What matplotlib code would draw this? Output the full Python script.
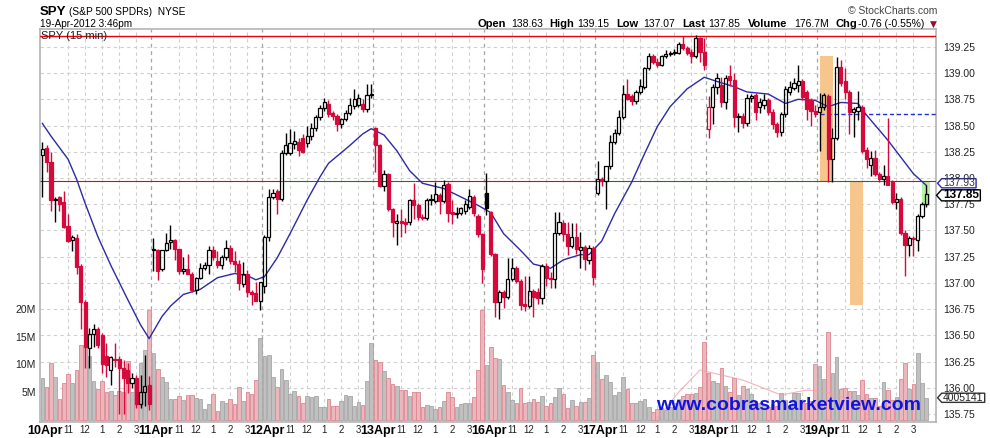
import matplotlib
matplotlib.use("Agg")
import matplotlib.pyplot as plt
import numpy as np
from matplotlib.path import Path
from matplotlib.transforms import blended_transform_factory

plt.rcParams["font.family"] = ["Liberation Sans", "DejaVu Sans"]

days = ["10Apr", "11Apr", "12Apr", "13Apr", "16Apr", "17Apr", "18Apr", "19Apr"]
hour_labels = ["11", "12", "1", "2", "3"]
hour_offsets = [6, 10, 14, 18, 22]
bars_per_day = 26

# 15-min OHLC, one line per trading day
opens = [
    138.22, 138.29, 138.15, 137.79, 137.82, 137.77, 137.54, 137.41, 137.43, 137.16, 136.82, 136.38, 136.51, 136.56, 136.50, 136.30, 136.17, 136.28, 136.28, 136.19, 136.17, 136.05, 136.09, 135.85, 135.96, 136.03,
    137.31, 137.31, 137.13, 137.31, 137.39, 137.41, 137.32, 137.11, 137.13, 137.09, 136.93, 137.05, 137.14, 137.17, 137.31, 137.21, 137.17, 137.25, 137.33, 137.21, 137.18, 136.99, 137.09, 136.91, 136.90, 136.83,
    136.97, 137.44, 137.82, 137.88, 137.80, 138.24, 138.24, 138.32, 138.34, 138.38, 138.33, 138.40, 138.48, 138.58, 138.67, 138.71, 138.62, 138.59, 138.51, 138.56, 138.62, 138.69, 138.70, 138.71, 138.66, 138.79,
    138.48, 138.31, 137.92, 138.04, 137.70, 137.57, 137.59, 137.58, 137.58, 137.79, 137.74, 137.63, 137.62, 137.79, 137.78, 137.84, 137.78, 137.94, 137.68, 137.66, 137.67, 137.69, 137.72, 137.82, 137.64, 137.47,
    137.86, 137.68, 137.28, 136.82, 136.91, 136.87, 137.04, 137.14, 137.02, 136.80, 136.78, 136.92, 136.91, 136.86, 137.16, 137.05, 137.04, 137.48, 137.57, 137.47, 137.35, 137.44, 137.31, 137.34, 137.22, 137.33,
    137.86, 137.99, 137.97, 138.11, 138.34, 138.43, 138.58, 138.80, 138.78, 138.73, 138.82, 138.87, 139.05, 139.16, 139.11, 139.08, 139.16, 139.18, 139.19, 139.19, 139.28, 139.24, 139.20, 139.16, 139.33, 139.20,
    138.47, 138.68, 138.87, 138.89, 138.72, 138.97, 138.93, 138.58, 138.59, 138.52, 138.76, 138.79, 138.68, 138.70, 138.74, 138.63, 138.51, 138.44, 138.61, 138.82, 138.86, 138.89, 138.92, 138.82, 138.74, 138.64,
    138.63, 138.68, 138.78, 138.18, 138.38, 139.06, 138.92, 138.82, 138.63, 138.64, 138.68, 138.27, 138.12, 138.19, 138.04, 137.99, 138.02, 137.96, 137.77, 137.80, 137.48, 137.36, 137.43, 137.41, 137.64, 137.75,
]
highs = [
    138.34, 138.31, 138.25, 137.82, 137.83, 137.88, 137.66, 137.46, 137.47, 137.18, 136.84, 136.57, 136.61, 136.58, 136.52, 136.43, 136.30, 136.43, 136.30, 136.27, 136.24, 136.14, 136.12, 136.12, 136.31, 136.11,
    137.43, 137.32, 137.31, 137.48, 137.55, 137.42, 137.32, 137.25, 137.28, 137.10, 137.06, 137.19, 137.20, 137.35, 137.35, 137.30, 137.27, 137.41, 137.36, 137.30, 137.22, 137.20, 137.12, 136.93, 137.01, 137.01,
    137.46, 137.90, 137.90, 137.90, 138.27, 138.43, 138.47, 138.45, 138.38, 138.42, 138.50, 138.52, 138.60, 138.70, 138.76, 138.74, 138.64, 138.61, 138.57, 138.65, 138.76, 138.85, 138.80, 138.75, 138.90, 138.90,
    138.49, 138.32, 138.08, 138.05, 137.71, 137.66, 137.70, 137.62, 137.80, 137.95, 137.76, 137.66, 137.81, 137.85, 137.96, 137.86, 137.98, 137.96, 137.79, 137.72, 137.72, 137.79, 137.90, 137.84, 137.66, 137.48,
    138.05, 137.69, 137.29, 136.93, 136.93, 137.24, 137.24, 137.16, 137.04, 137.07, 137.07, 136.94, 136.95, 137.18, 137.19, 137.10, 137.68, 137.68, 137.60, 137.58, 137.57, 137.57, 137.49, 137.36, 137.36, 137.35,
    138.16, 138.01, 138.11, 138.41, 138.47, 138.65, 138.89, 138.94, 138.80, 138.84, 138.94, 139.06, 139.19, 139.18, 139.14, 139.17, 139.22, 139.21, 139.23, 139.30, 139.35, 139.26, 139.23, 139.36, 139.34, 139.33,
    138.78, 138.90, 139.00, 138.96, 138.98, 139.08, 139.00, 138.62, 138.62, 138.80, 138.80, 138.81, 138.76, 138.80, 138.76, 138.66, 138.53, 138.63, 138.88, 138.92, 138.95, 139.08, 138.94, 138.84, 138.76, 138.70,
    138.81, 138.81, 138.80, 138.48, 139.15, 139.12, 139.05, 138.84, 138.68, 138.83, 138.70, 138.30, 138.26, 138.27, 138.06, 138.12, 138.57, 137.98, 137.86, 137.82, 137.50, 137.45, 137.45, 137.66, 137.77, 137.93,
]
lows = [
    137.82, 138.06, 137.69, 137.58, 137.69, 137.52, 137.39, 137.30, 137.09, 136.56, 136.19, 136.19, 136.39, 136.38, 136.14, 136.10, 136.03, 136.20, 135.75, 135.75, 135.95, 136.00, 135.81, 135.81, 135.83, 135.79,
    137.11, 137.03, 137.11, 137.30, 137.32, 137.22, 137.09, 137.09, 137.09, 136.91, 136.89, 137.04, 137.12, 137.09, 137.22, 137.14, 137.13, 137.22, 137.18, 137.10, 136.93, 136.96, 136.87, 136.79, 136.85, 136.74,
    136.90, 137.40, 137.80, 137.66, 137.78, 138.22, 138.22, 138.28, 138.21, 138.24, 138.30, 138.36, 138.45, 138.55, 138.64, 138.58, 138.55, 138.45, 138.48, 138.54, 138.60, 138.66, 138.68, 138.63, 138.63, 138.76,
    138.06, 137.91, 137.88, 137.69, 137.44, 137.36, 137.44, 137.48, 137.55, 137.61, 137.60, 137.60, 137.60, 137.74, 137.76, 137.66, 137.76, 137.58, 137.56, 137.62, 137.65, 137.66, 137.70, 137.64, 137.44, 137.00,
    137.65, 137.26, 136.68, 136.66, 136.76, 136.85, 137.02, 137.00, 136.74, 136.73, 136.76, 136.68, 136.80, 136.80, 136.97, 136.95, 136.95, 137.46, 137.40, 137.27, 137.33, 137.28, 137.14, 137.12, 137.18, 136.98,
    137.84, 137.92, 137.70, 138.09, 138.32, 138.41, 138.56, 138.74, 138.70, 138.71, 138.80, 138.85, 139.03, 139.09, 139.06, 139.07, 139.14, 139.16, 139.17, 139.18, 139.22, 139.17, 139.10, 139.14, 139.11, 139.03,
    138.38, 138.51, 138.80, 138.68, 138.66, 138.88, 138.49, 138.44, 138.48, 138.50, 138.72, 138.55, 138.62, 138.66, 138.60, 138.47, 138.39, 138.40, 138.58, 138.79, 138.84, 138.82, 138.74, 138.55, 138.50, 138.58,
    138.26, 138.65, 137.96, 137.96, 138.36, 138.88, 138.75, 138.42, 138.39, 138.55, 138.24, 138.10, 138.02, 138.02, 137.96, 137.93, 137.96, 137.75, 137.70, 137.46, 137.07, 137.26, 137.26, 137.30, 137.62, 137.72,
]
closes = [
    138.28, 138.15, 137.79, 137.80, 137.75, 137.53, 137.40, 137.44, 137.15, 136.82, 136.39, 136.51, 136.56, 136.41, 136.23, 136.22, 136.29, 136.27, 136.19, 136.09, 136.05, 136.09, 135.85, 135.96, 136.02, 135.85,
    137.32, 137.11, 137.31, 137.38, 137.41, 137.32, 137.11, 137.13, 137.09, 136.93, 137.05, 137.14, 137.17, 137.31, 137.25, 137.17, 137.25, 137.33, 137.21, 137.18, 137.00, 137.09, 136.91, 136.89, 136.83, 137.01,
    137.44, 137.82, 137.86, 137.80, 138.24, 138.31, 138.33, 138.35, 138.27, 138.25, 138.40, 138.48, 138.58, 138.67, 138.72, 138.61, 138.59, 138.51, 138.56, 138.62, 138.70, 138.75, 138.76, 138.66, 138.79, 138.80,
    138.31, 137.92, 138.04, 137.70, 137.58, 137.59, 137.57, 137.56, 137.79, 137.74, 137.63, 137.62, 137.79, 137.80, 137.85, 137.78, 137.93, 137.67, 137.66, 137.67, 137.71, 137.75, 137.83, 137.67, 137.47, 137.13,
    137.71, 137.28, 136.82, 136.91, 136.87, 137.04, 137.14, 137.02, 136.79, 136.78, 136.92, 136.87, 136.86, 137.16, 137.05, 137.04, 137.48, 137.58, 137.47, 137.35, 137.44, 137.32, 137.34, 137.23, 137.33, 137.06,
    137.99, 137.97, 138.11, 138.34, 138.43, 138.58, 138.80, 138.75, 138.73, 138.82, 138.88, 139.05, 139.16, 139.11, 139.08, 139.16, 139.18, 139.19, 139.20, 139.28, 139.24, 139.19, 139.16, 139.33, 139.20, 139.08,
    138.68, 138.87, 138.95, 138.72, 138.95, 138.93, 138.58, 138.59, 138.52, 138.76, 138.78, 138.63, 138.72, 138.74, 138.63, 138.51, 138.44, 138.61, 138.85, 138.87, 138.91, 138.92, 138.77, 138.66, 138.64, 138.61,
    138.68, 138.79, 138.18, 138.38, 139.06, 138.91, 138.82, 138.63, 138.66, 138.68, 138.26, 138.18, 138.19, 138.04, 137.99, 138.02, 137.93, 137.77, 137.80, 137.48, 137.36, 137.43, 137.42, 137.64, 137.75, 137.85,
]
# volume, millions of shares
volumes = [
    7.5, 5.9, 10.2, 7.7, 3.8, 6.6, 8.3, 6.6, 9.0, 13.5, 13.3, 11.5, 7.1, 5.6, 7.0, 5.1, 5.2, 4.5, 5.2, 5.0, 10.7, 5.1, 7.0, 10.2, 12.6, 19.8,
    12.1, 9.2, 7.8, 6.8, 3.7, 3.7, 4.4, 3.6, 4.5, 4.5, 3.9, 3.8, 2.0, 2.8, 4.6, 1.6, 3.4, 3.0, 3.8, 2.8, 5.9, 3.5, 5.1, 4.7, 7.2, 14.7,
    11.5, 11.7, 7.7, 5.9, 9.2, 7.2, 4.7, 5.2, 4.4, 3.0, 4.3, 4.1, 4.3, 2.4, 2.3, 3.8, 2.5, 2.5, 3.4, 4.5, 4.4, 2.6, 3.3, 2.7, 7.0, 13.8,
    10.8, 10.5, 8.8, 7.6, 6.4, 6.1, 5.4, 5.4, 4.3, 5.1, 5.0, 2.4, 2.7, 2.6, 2.0, 2.3, 3.4, 5.0, 4.2, 2.3, 2.8, 3.1, 3.0, 4.2, 9.0, 19.8,
    9.9, 13.1, 11.1, 10.9, 6.3, 5.1, 3.6, 3.1, 5.7, 3.0, 3.2, 3.7, 3.3, 4.4, 2.5, 3.0, 4.1, 5.7, 4.7, 2.1, 3.6, 2.5, 3.2, 3.2, 3.9, 11.7,
    10.5, 7.3, 8.1, 6.9, 4.5, 5.1, 7.7, 5.5, 3.0, 3.0, 3.4, 3.7, 2.4, 1.5, 1.9, 2.1, 1.8, 2.4, 3.1, 3.8, 4.3, 4.6, 4.6, 4.8, 6.0, 14.1,
    8.5, 7.1, 6.6, 9.3, 6.2, 5.1, 7.5, 4.5, 6.2, 5.5, 4.6, 3.4, 3.1, 2.9, 2.4, 2.8, 2.5, 4.9, 3.6, 2.5, 4.8, 4.8, 3.4, 3.0, 3.4, 10.0,
    9.7, 7.3, 15.9, 8.4, 11.4, 5.5, 5.7, 5.2, 5.2, 4.5, 7.2, 4.7, 3.9, 3.9, 2.6, 6.8, 5.4, 3.6, 4.1, 7.3, 10.2, 5.5, 6.4, 12.0, 6.6, 4.005141,
]

# 20-bar moving average, read at selected bars
ma_bar = [0, 2, 6, 8, 10, 13, 16, 20, 23, 25, 27, 28, 30, 33, 37, 41, 45, 48, 50, 52, 55, 58, 62, 65, 67,
          72, 75, 77, 80, 83, 86, 88, 89, 94, 98, 102, 105, 108, 112, 115, 119, 122, 126, 128, 131, 134,
          138, 141, 144, 147, 151, 155, 158, 162, 165, 170, 174, 177, 181, 184, 187, 191, 193, 198, 201,
          204, 207]
ma_val = [138.52, 138.40, 138.18, 137.99, 137.76, 137.44, 137.17, 136.84, 136.60, 136.47, 136.61, 136.68,
          136.78, 136.89, 136.94, 137.05, 137.09, 137.07, 137.03, 137.06, 137.24, 137.47, 137.79, 138.01,
          138.14, 138.31, 138.42, 138.47, 138.41, 138.26, 138.07, 137.99, 137.95, 137.90, 137.82, 137.74,
          137.67, 137.47, 137.31, 137.18, 137.14, 137.22, 137.27, 137.27, 137.40, 137.66, 137.96, 138.23,
          138.49, 138.68, 138.85, 138.96, 138.92, 138.87, 138.82, 138.80, 138.71, 138.75, 138.74, 138.68,
          138.72, 138.71, 138.60, 138.36, 138.20, 138.04, 137.93]

# faint volume average visible on the last days
vma_bar = [144, 149, 154, 159, 164, 173, 179, 183, 187, 190, 194]
vma_val = [0.3, 5.0, 9.0, 8.1, 7.2, 4.5, 5.4, 5.1, 4.2, 3.6, 0.3]

top_level = 139.355
drawn_level = 137.97
level_breaks = [-0.56, 56.1, 87.3, 130.6, 198.5, 209.27]
level_colors = ["#e8000b", "#1a7a1a", "#e8000b", "#1a7a1a", "#e8000b"]
prev_close = 138.61
orange_boxes = [(182.1, 185.2, 137.97, 139.16), (189.1, 192.1, 136.79, 137.97)]
green_box = (206.1, 207.9, 137.73, 137.97)

RED = "#d6093d"
W, H = 990, 438
fig = plt.figure(figsize=(W / 100, H / 100), dpi=100)
rect = [40 / W, (H - 422) / H, 896 / W, 393 / H]
axv = fig.add_axes(rect)
ax = fig.add_axes(rect, sharex=axv)
ax.patch.set_visible(False)

o = np.array(opens); h = np.array(highs); l = np.array(lows); c = np.array(closes)
v = np.array(volumes)
n = len(c)
idx = np.arange(n)
prev = np.r_[c[0] - 1, c[:-1]]
down = c < prev

ax.set_xlim(-0.56, 209.27)
ax.set_ylim(135.675, 139.42)
axv.set_ylim(-0.35, 70.3)

# grid (drawn in the lower axes so the bars cover it)
gtrans = blended_transform_factory(axv.transAxes, ax.transData)
price_ticks = np.arange(135.75, 139.26, 0.25)
for p in price_ticks:
    axv.plot([0, 1], [p, p], transform=gtrans, color="#cfcfcf", lw=0.8,
             ls=(0, (3, 3)), zorder=0)
for d in range(len(days)):
    for off in hour_offsets:
        axv.axvline(d * bars_per_day + off, color="#cfcfcf", lw=0.8, ls=(0, (3, 3)), zorder=0)
    if d:
        axv.axvline(d * bars_per_day - 0.5, color="#a5a5a5", lw=0.9, ls=(0, (3, 3)), zorder=0)

# volume
vface = np.where(down, "#ebb6bc", "#c0c0c0")
vedge = np.where(down, "#dc8791", "#a6a6a6")
axv.bar(idx, v, width=0.86, color=vface, edgecolor=vedge, linewidth=0.6, zorder=1)
axv.plot(vma_bar, vma_val, color="#f0a0a8", lw=0.8, alpha=0.8, zorder=2)

# annotations behind the candles
for x0, x1, y0, y1 in orange_boxes:
    ax.fill_between([x0, x1], y0, y1, color="#f6c68c", lw=0, zorder=1)
ax.fill_between([green_box[0], green_box[1]], green_box[2], green_box[3],
                color="#b9f0a2", lw=0, zorder=1)
ax.axhline(top_level, color="#e8000b", lw=1.0, zorder=2)
for k in range(len(level_colors)):
    ax.hlines(drawn_level, level_breaks[k], level_breaks[k + 1],
              color=level_colors[k], lw=0.8, zorder=2)
ax.hlines(prev_close, 182, 209.27, color="#1f2fd0", lw=1.0, ls=(0, (3, 2)), zorder=2)
ax.plot(ma_bar, ma_val, color="#2b2ba6", lw=1.0, zorder=2.5)

# candles
col = np.where(down, RED, "black")
bot = np.minimum(o, c)
top = np.maximum(o, c)
face = [col[i] if c[i] < o[i] else "none" for i in range(n)]
ax.vlines(idx, l, bot, colors=col, lw=1.0, zorder=3)
ax.vlines(idx, top, h, colors=col, lw=1.0, zorder=3)
ax.bar(idx, np.maximum(top - bot, 0.004), bottom=bot, width=0.74, color=face,
       edgecolor=col, linewidth=0.9, zorder=4)

# axes cosmetics
for s in axv.spines.values():
    s.set_color("#b4b4b4")
    s.set_linewidth(1.2)
for s in ax.spines.values():
    s.set_visible(False)

ax.yaxis.tick_right()
ax.set_yticks(price_ticks)
ax.set_yticklabels([f"{p:.2f}" for p in price_ticks])
ax.tick_params(axis="y", length=0, pad=5, labelsize=7.5, labelcolor="#222")
ax.tick_params(axis="x", bottom=False, labelbottom=False)

axv.set_yticks([5, 10, 15, 20])
axv.set_yticklabels(["5M", "10M", "15M", "20M"])
axv.tick_params(axis="y", length=0, pad=3, labelsize=7.5, labelcolor="#222")

xt, xl, bold = [], [], []
for d, name in enumerate(days):
    xt.append(d * bars_per_day + 0.5); xl.append(name); bold.append(True)
    for off, hl in zip(hour_offsets, hour_labels):
        xt.append(d * bars_per_day + off); xl.append(hl); bold.append(False)
axv.set_xticks(xt)
axv.set_xticklabels(xl)
axv.tick_params(axis="x", length=0, pad=2, labelsize=7, labelcolor="#222")
for t, b in zip(axv.get_xticklabels(), bold):
    if b:
        t.set_fontweight("bold")
        t.set_fontsize(9)
        t.set_color("black")


def tag_shape(x0, y0, width, height, mutation_size):
    padx = 0.12 * mutation_size
    pady = -0.04 * mutation_size
    x0, y0 = x0 - padx, y0 - pady
    width, height = width + 2 * padx, height + 2 * pady
    tip = height * 0.45
    verts = [(x0 - tip, y0 + height / 2), (x0, y0), (x0 + width, y0),
             (x0 + width, y0 + height), (x0, y0 + height),
             (x0 - tip, y0 + height / 2)]
    return Path(verts, closed=True)


def tag(value, text, trans, edge, weight="normal", size=7.5, color="#222"):
    ax.annotate(text, xy=(1, value), xycoords=trans, xytext=(5, 0),
                textcoords="offset points", ha="left", va="center",
                fontsize=size, fontweight=weight, color=color, zorder=10,
                bbox=dict(boxstyle=tag_shape, fc="white", ec=edge, lw=1.0))


ptrans = blended_transform_factory(ax.transAxes, ax.transData)
vtrans = blended_transform_factory(ax.transAxes, axv.transData)
tag(ma_val[-1] + 0.02, f"{ma_val[-1]:.2f}", ptrans, "#2b2ba6", color="#333")
tag(c[-1] - 0.015, f"{c[-1]:.2f}", ptrans, "black", weight="bold", size=8.5, color="black")
tag(v[-1], f"{round(v[-1] * 1e6)}", vtrans, "#333")

# header
def ftext(x, y, s, **kw):
    fig.text(x / W, 1 - y / H, s, va="baseline", **kw)


ftext(40, 15, "SPY", fontsize=9.5, fontweight="bold")
ftext(69, 15, "(S&P 500 SPDRs)  NYSE", fontsize=7.3)
ftext(40, 27, "19-Apr-2012 3:46pm", fontsize=7.2)
ftext(937, 14, "\u00a9 StockCharts.com", fontsize=7.5, color="#444", ha="right")
stats = [("Open", 478), ("138.63", 511), ("High", 549), ("139.15", 577),
         ("Low", 616), ("137.07", 643), ("Last", 682), ("137.85", 708),
         ("Volume", 748), ("176.7M", 794), ("Chg", 836), ("-0.76 (-0.55%)", 858)]
for k, (s, x) in enumerate(stats):
    if k % 2 == 0:
        ftext(x, 27, s, fontsize=8, fontweight="bold")
    else:
        ftext(x, 27, s, fontsize=7.5)
ftext(930, 27, "\u25bc", fontsize=6.5, color="#9b0a2a", family=["DejaVu Sans"])
fig.text(41 / W, 1 - 36 / H, "SPY (15 min)", fontsize=8, va="center", color="#222")
fig.text(789 / W, 1 - 405 / H, "www.cobrasmarketview.com", fontsize=14,
         fontweight="bold", color="#1212e0", ha="center", va="center")

fig.savefig("out.png", dpi=100)
print("WROTE out.png")
